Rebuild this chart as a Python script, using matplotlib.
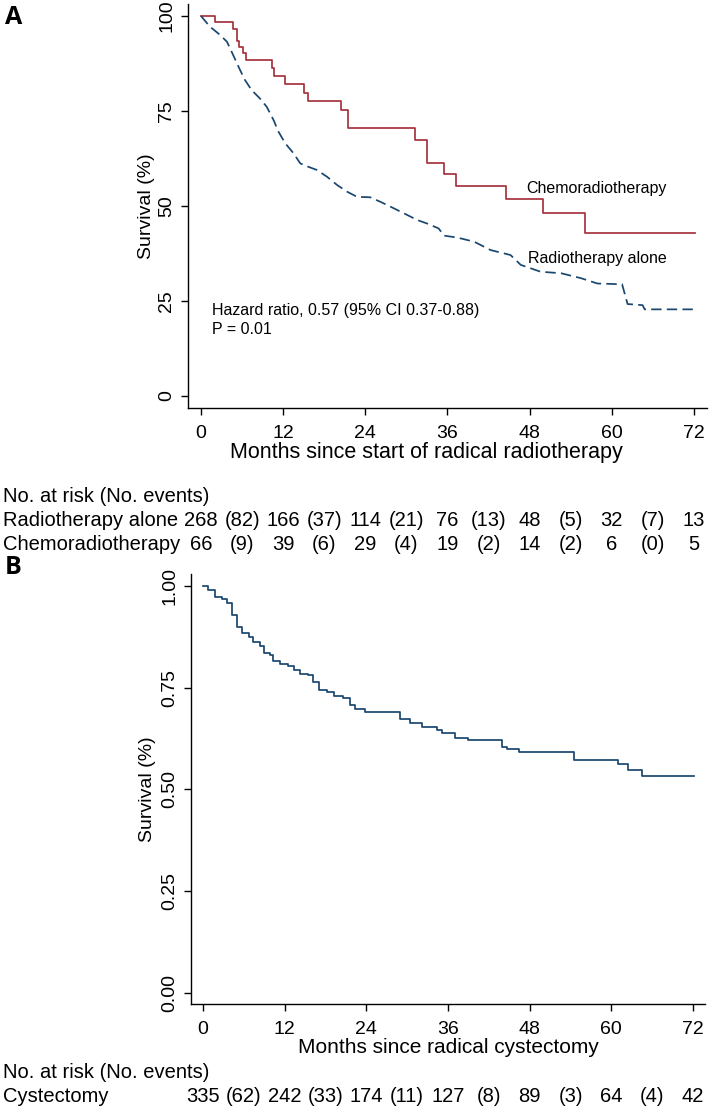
import matplotlib
matplotlib.use('Agg')
import matplotlib.pyplot as plt
from matplotlib.transforms import blended_transform_factory

# fonts: narrow for axes / risk tables, regular for in-plot notes
narrow = ['Liberation Sans Narrow', 'Liberation Sans', 'DejaVu Sans']
regular = ['Liberation Sans', 'DejaVu Sans']
plt.rcParams['font.family'] = narrow

red = '#a5323e'
navy = '#1a476f'

# panel A: Kaplan-Meier curves
chemo_t = [0, 2.0, 4.6, 5.2, 5.5, 6.1, 6.5, 10.3, 10.6, 12.2, 15.1, 15.6, 20.4, 21.4,
           31.2, 33.0, 35.5, 37.3, 44.5, 49.9, 56.1, 72.2]
chemo_s = [100, 98.5, 96.7, 93.5, 91.9, 90.2, 88.4, 86.2, 84.2, 82.0, 79.8, 77.7, 75.3, 70.6,
           67.4, 61.2, 58.4, 55.3, 51.8, 48.2, 42.8, 42.8]

# radiotherapy alone has many tiny steps, so it is traced as a line through read points
rt_t = [0, 1.3, 2.8, 3.8, 4.7, 5.7, 6.4, 7.4, 8.6, 9.6, 10.6, 11.3, 12.3, 13.5, 14.5, 15.7,
        16.9, 18.4, 19.9, 21.3, 22.8, 24.7, 26.2, 27.7, 29.6, 31.6, 33.0, 34.7, 35.5, 37.4,
        39.9, 42.3, 45.2, 46.7, 49.6, 52.6, 55.5, 57.9, 61.5, 62.3, 64.5, 64.8, 72.2]
rt_s = [100, 97.2, 95.0, 93.2, 89.7, 85.8, 83.2, 80.5, 78.3, 76.1, 72.6, 69.6, 66.5, 63.9, 61.2, 60.3,
        59.5, 57.7, 55.5, 53.8, 52.4, 52.3, 51.1, 49.8, 48.1, 46.3, 45.4, 44.1, 42.2, 41.7,
        40.6, 38.4, 37.1, 34.5, 32.7, 32.3, 31.0, 29.6, 29.4, 24.2, 23.9, 22.8, 22.8]

# panel B
cyst_t = [0, 0.8, 1.8, 2.75, 3.5, 4.2, 4.95, 5.7, 6.7, 7.4, 8.4, 8.9, 9.85, 10.3, 11.3, 12.5,
          13.3, 14.3, 15.5, 16.2, 17.0, 18.2, 19.2, 20.6, 21.6, 22.4, 23.8, 29.0, 30.4, 32.2,
          34.4, 35.1, 37.1, 39.0, 44.0, 44.7, 46.5, 54.5, 61.0, 62.5, 64.5, 72.2]
cyst_s = [1.0, 0.99, 0.974, 0.967, 0.957, 0.929, 0.900, 0.884, 0.875, 0.863, 0.852, 0.834, 0.830,
          0.816, 0.808, 0.804, 0.793, 0.784, 0.780, 0.765, 0.744, 0.740, 0.730, 0.724, 0.707,
          0.697, 0.689, 0.672, 0.664, 0.654, 0.646, 0.638, 0.627, 0.621, 0.603, 0.599, 0.592,
          0.571, 0.562, 0.548, 0.533, 0.533]

# risk tables
x_ticks = [0, 12, 24, 36, 48, 60, 72]
rt_risk = [268, 166, 114, 76, 48, 32, 13]
rt_events = [82, 37, 21, 13, 5, 7]
chemo_risk = [66, 39, 29, 19, 14, 6, 5]
chemo_events = [9, 6, 4, 2, 2, 0]
cyst_risk = [335, 242, 174, 127, 89, 64, 42]
cyst_events = [62, 33, 11, 8, 3, 4]

W, H = 709, 1110
fig = plt.figure(figsize=(W / 100, H / 100), dpi=100)

TICK_FS = 14
TAB_FS = 14.5
NOTE_FS = 11.5


def px(x0, y0, x1, y1):
    # pixel box (top-left origin) -> figure fraction rect
    return [x0 / W, 1 - y1 / H, (x1 - x0) / W, (y1 - y0) / H]


def style(ax, yticks, ylabels):
    for s in ['top', 'right']:
        ax.spines[s].set_visible(False)
    for s in ['left', 'bottom']:
        ax.spines[s].set_linewidth(1.0)
    ax.set_xticks(x_ticks)
    ax.set_yticks(yticks)
    ax.set_yticklabels(ylabels, rotation=90, va='center')
    ax.tick_params(direction='out', length=5, width=1.0, labelsize=TICK_FS)
    ax.tick_params(axis='x', pad=7)
    ax.tick_params(axis='y', pad=4)
    ax.set_ylabel('Survival (%)', fontsize=TICK_FS)


def risk_rows(ax, rows, y_head):
    tr = blended_transform_factory(ax.transData, fig.transFigure)
    fig.text(3 / W, 1 - y_head / H, 'No. at risk (No. events)', fontsize=TAB_FS, va='center')
    for name, risk, events, y in rows:
        yf = 1 - y / H
        fig.text(3 / W, yf, name, fontsize=TAB_FS, va='center')
        for t, n in zip(x_ticks, risk):
            ax.text(t, yf, str(n), transform=tr, fontsize=TAB_FS, ha='center', va='center')
        for t, e in zip(x_ticks[:-1], events):
            ax.text(t + 6, yf, '(%d)' % e, transform=tr, fontsize=TAB_FS, ha='center', va='center')


# ---- panel A ----
axA = fig.add_axes(px(188, 4, 707, 408))
axA.step(chemo_t, chemo_s, where='post', color=red, lw=1.25)
axA.plot(rt_t, rt_s, color=navy, lw=1.25, linestyle=(0, (6, 3)))
axA.set_xlim(-1.9, 73.9)
axA.set_ylim(-3.16, 103.16)
style(axA, [0, 25, 50, 75, 100], ['0', '25', '50', '75', '100'])
axA.set_xlabel('Months since start of radical radiotherapy', fontsize=15.5)
axA.yaxis.set_label_coords(-0.063, 0.5)
axA.xaxis.set_label_coords(0.46, -0.085)
axA.text(47.5, 54.5, 'Chemoradiotherapy', family=regular, fontsize=NOTE_FS, va='center')
axA.text(47.8, 36.1, 'Radiotherapy alone', family=regular, fontsize=NOTE_FS, va='center')
axA.text(1.6, 22.4, 'Hazard ratio, 0.57 (95% CI 0.37-0.88)', family=regular, fontsize=NOTE_FS, va='center')
axA.text(1.6, 17.4, 'P = 0.01', family=regular, fontsize=NOTE_FS, va='center')
fig.text(5 / W, 1 - 17 / H, 'A', fontsize=18, fontweight='bold', family=['Open Sans', 'DejaVu Sans'], va='center')

risk_rows(axA, [('Radiotherapy alone', rt_risk, rt_events, 521),
                ('Chemoradiotherapy', chemo_risk, chemo_events, 545)], 497)

# ---- panel B ----
axB = fig.add_axes(px(191, 574, 705, 1004))
axB.step(cyst_t, cyst_s, where='post', color=navy, lw=1.25)
axB.set_xlim(-1.76, 73.76)
axB.set_ylim(-0.0278, 1.0294)
style(axB, [0, 0.25, 0.5, 0.75, 1.0], ['0.00', '0.25', '0.50', '0.75', '1.00'])
axB.set_xlabel('Months since radical cystectomy', fontsize=15)
axB.yaxis.set_label_coords(-0.068, 0.5)
axB.xaxis.set_label_coords(0.5, -0.08)
fig.text(5 / W, 1 - 568 / H, 'B', fontsize=18, fontweight='bold', family=['Open Sans', 'DejaVu Sans'], va='center')

risk_rows(axB, [('Cystectomy', cyst_risk, cyst_events, 1097)], 1073)

fig.savefig('out.png', dpi=100)
